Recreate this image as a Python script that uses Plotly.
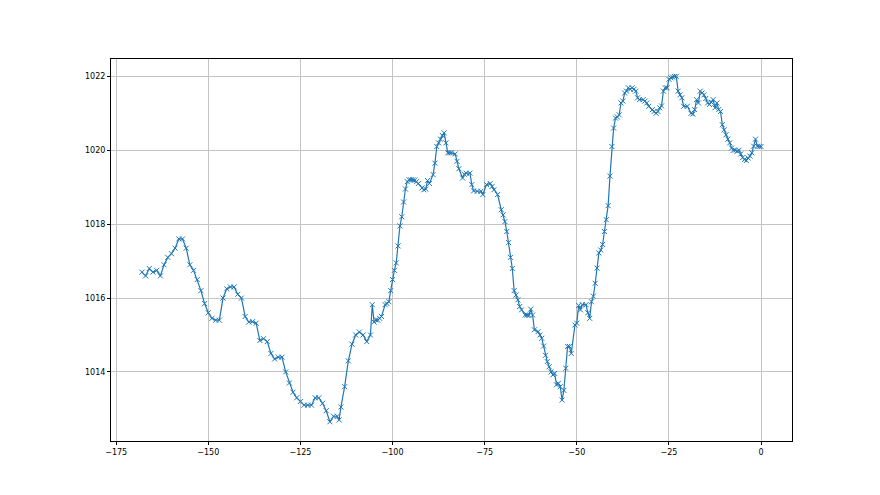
import plotly.graph_objects as go

hours = [
    -168, -167, -166, -165, -164, -163, -162, -161, -160, -159, -158, -157, -156, -155,
    -154, -153, -152, -151, -150, -149, -148, -147, -146, -145, -144, -143, -142, -141,
    -140, -139, -138, -137, -136, -135, -134, -133, -132, -131, -130, -129, -128, -127,
    -126, -125, -124, -123, -122, -121, -120, -119, -118, -117, -116, -115, -114.5, -114,
    -113, -112, -111, -110, -109, -108, -107, -106,
    -105.5, -105, -104.5, -104, -103.5, -103, -102, -101.5, -101, -100.5, -100, -99.5,
    -99, -98.5, -98, -97.5, -97, -96.5, -96, -95.5, -95, -94.5, -94, -93.5, -93, -92,
    -91.5, -91, -90.5, -90, -89, -88.5, -88, -87.5, -87, -86.5, -86, -85.5, -85, -84.5,
    -84, -83, -82.5, -82, -81, -80.5, -80, -79, -78.5, -78, -77, -76, -75.5, -74.5,
    -73.5, -73, -72.5, -71.5, -70.5, -70, -69.5, -69, -68.5, -68, -67.5, -67, -66.5, -66,
    -65.5, -65, -64, -63.5, -63, -62.5, -62, -61.5, -60.5, -60, -59.5, -59, -58.5, -58,
    -57.5, -57, -56.5, -56, -55.5, -55, -54.5, -54, -53.5, -53, -52.5, -52, -51.5, -50.5,
    -50, -49.5, -49, -48.5, -47.5, -47, -46.5, -46, -45.5, -45, -44.5, -44, -43.5, -43,
    -42.5, -42, -41.5, -41, -40.5, -40, -39.5, -39, -38.5, -38, -37.5, -37, -36.5, -36,
    -35.5, -35, -34.5, -34, -33.5, -33, -32, -31.5, -31, -30.5, -29.5, -29, -28.5, -28,
    -27.5, -27, -26.5, -26, -25.5, -25, -24.5, -24, -23.5, -23, -22.5, -22, -21.5, -21,
    -20, -19, -18.5, -18, -17.5, -17, -16.5, -16, -15.5, -15, -14.5, -14, -13.5, -13,
    -12.5, -12, -11.5, -11, -10.5, -10, -9.5, -9, -8.5, -8, -7.5, -7, -6.5, -6,
    -5.5, -5, -4.5, -4, -3.5, -3, -2.5, -2, -1.5, -1, -0.5, 0,
]

pressure = [
    1016.7, 1016.6, 1016.8, 1016.7, 1016.75, 1016.6, 1016.9, 1017.1, 1017.2, 1017.35, 1017.6, 1017.6, 1017.35, 1016.9,
    1016.75, 1016.5, 1016.2, 1015.85, 1015.6, 1015.45, 1015.4, 1015.4, 1016.0, 1016.25, 1016.3, 1016.3, 1016.1, 1016.0,
    1015.5, 1015.35, 1015.36, 1015.32, 1014.85, 1014.9, 1014.82, 1014.5, 1014.35, 1014.4, 1014.4, 1014.0, 1013.7, 1013.45,
    1013.3, 1013.2, 1013.1, 1013.1, 1013.1, 1013.3, 1013.3, 1013.15, 1012.95, 1012.65, 1012.8, 1012.8, 1012.7, 1013.05,
    1013.6, 1014.3, 1014.75, 1015.0, 1015.08, 1015.0, 1014.82, 1015.0,
    1015.82, 1015.35, 1015.41, 1015.4, 1015.45, 1015.5, 1015.82, 1015.85, 1015.9, 1016.2, 1016.5, 1016.75,
    1016.95, 1017.41, 1017.95, 1018.2, 1018.6, 1018.95, 1019.15, 1019.2, 1019.2, 1019.2, 1019.19, 1019.15, 1019.1, 1018.98,
    1018.93, 1018.95, 1019.18, 1019.1, 1019.34, 1019.65, 1020.1, 1020.2, 1020.3, 1020.4, 1020.47, 1020.2, 1019.93, 1019.93,
    1019.93, 1019.9, 1019.7, 1019.5, 1019.25, 1019.35, 1019.38, 1019.38, 1019.07, 1018.9, 1018.89, 1018.89, 1018.8, 1019.07,
    1019.1, 1019.02, 1018.93, 1018.8, 1018.39, 1018.25, 1018.07, 1017.8, 1017.5, 1017.1, 1016.8, 1016.2, 1016.08, 1015.95,
    1015.77, 1015.68, 1015.54, 1015.54, 1015.53, 1015.7, 1015.54, 1015.14, 1015.09, 1015.0, 1014.91, 1014.7, 1014.45, 1014.28,
    1014.14, 1014.0, 1013.92, 1013.96, 1013.65, 1013.69, 1013.6, 1013.24, 1013.5, 1014.1, 1014.69, 1014.69, 1014.5, 1015.27,
    1015.32, 1015.8, 1015.68, 1015.82, 1015.82, 1015.6, 1015.45, 1015.9, 1016.05, 1016.4, 1016.81, 1017.22, 1017.3, 1017.45,
    1017.8, 1018.12, 1018.5, 1019.3, 1020.1, 1020.6, 1020.87, 1020.9, 1020.96, 1021.28, 1021.33, 1021.55, 1021.6, 1021.69,
    1021.65, 1021.69, 1021.65, 1021.6, 1021.42, 1021.37, 1021.37, 1021.33, 1021.28, 1021.19, 1021.1, 1021.05, 1021.0, 1021.05,
    1021.15, 1021.2, 1021.6, 1021.69, 1021.69, 1021.92, 1021.96, 1021.98, 1022.0, 1022.0, 1021.6, 1021.5, 1021.42, 1021.19,
    1021.19, 1021.0, 1020.98, 1021.1, 1021.37, 1021.28, 1021.6, 1021.55, 1021.5, 1021.4, 1021.28, 1021.24, 1021.3, 1021.37,
    1021.15, 1021.28, 1021.1, 1021.05, 1020.69, 1020.55, 1020.42, 1020.3, 1020.2, 1020.06, 1020.0, 1020.0, 1019.97, 1020.0,
    1019.9, 1019.8, 1019.75, 1019.72, 1019.79, 1019.84, 1019.93, 1020.11, 1020.3, 1020.11, 1020.1, 1020.1,
]

x_ticks = [-175, -150, -125, -100, -75, -50, -25, 0]
y_ticks = [1014, 1016, 1018, 1020, 1022]

fig = go.Figure()
fig.add_trace(go.Scatter(
    x=hours, y=pressure, mode="lines+markers",
    line=dict(color="#1f77b4", width=1.2),
    marker=dict(symbol="x-thin", size=5, color="#1f77b4",
                line=dict(width=1, color="#1f77b4")),
    showlegend=False,
))

axis_common = dict(
    showline=True, linecolor="black", linewidth=1, mirror=True,
    showgrid=True, gridcolor="#c4c4c4", gridwidth=1,
    ticks="outside", ticklen=3, tickwidth=1, tickcolor="black",
    zeroline=False,
    tickfont=dict(family="DejaVu Sans", size=8, color="black"),
)

fig.update_layout(
    width=880, height=495,
    margin=dict(l=103, r=96, t=51, b=62),
    paper_bgcolor="white", plot_bgcolor="white",
    xaxis=dict(range=[-176.4, 8.4], tickvals=x_ticks, **axis_common),
    yaxis=dict(range=[1012.13, 1022.47], tickvals=y_ticks, **axis_common),
)

fig.write_html("out.html")
